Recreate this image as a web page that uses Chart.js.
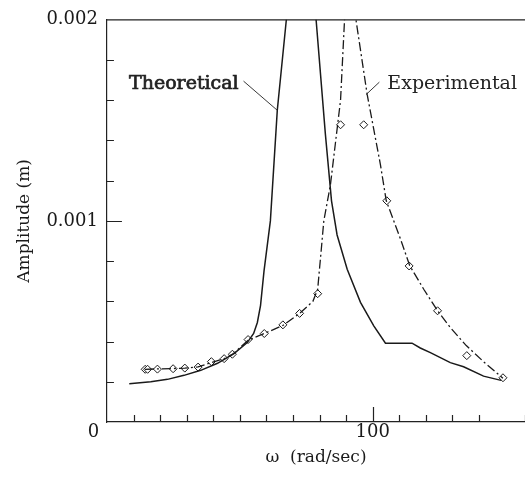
<!DOCTYPE html>
<html>
<head>
<meta charset="utf-8">
<script src="https://cdn.jsdelivr.net/npm/chart.js@4/dist/chart.umd.min.js"></script>
<style>
  html, body { margin: 0; padding: 0; background: #fff; }
  #wrap { width: 525px; height: 481px; }
</style>
</head>
<body>
<div id="wrap"><canvas id="myChart"></canvas></div>
<script>
// theoretical response (solid)
const thX = [8.4, 16.5, 22.8, 29, 35.3, 41.6, 47.8, 52.8, 55.2, 56.6, 57.8, 59.1, 61.5, 64.1, 67.5, 73, 78.7, 82.2, 84.5, 86.6, 90.4, 95.4, 100.4, 104.8, 114.8, 117.9, 121.7, 129.2, 134.2, 141.7, 148.3];
const thY = [0.00019, 0.0002, 0.000212, 0.000232, 0.000257, 0.000292, 0.00034, 0.000395, 0.00044, 0.000495, 0.00058, 0.00075, 0.001, 0.00155, 0.002, 0.0032, 0.002, 0.00143, 0.0011, 0.00093, 0.00076, 0.000595, 0.000478, 0.000392, 0.000392, 0.000368, 0.000345, 0.000295, 0.000275, 0.000228, 0.000207];

// experimental fit (dash-dot)
const fitX = [14.3, 19, 24.9, 29.3, 34.3, 39.3, 44.1, 47.2, 53.1, 59.2, 66.2, 72.5, 77.5, 79.3, 79.9, 80.6, 81.6, 84.1, 87.9, 89.4, 91.5, 93.7, 97.9, 102.9, 105.1, 110.4, 113.9, 119.2, 124.4, 129.2, 135.2, 141.7, 149];
const fitY = [0.000262, 0.000264, 0.000266, 0.000268, 0.000274, 0.000296, 0.000315, 0.000336, 0.000406, 0.00044, 0.00048, 0.00054, 0.0006, 0.00066, 0.00075, 0.00085, 0.001, 0.00118, 0.0016, 0.002, 0.0028, 0.002, 0.00163, 0.00128, 0.0011, 0.000912, 0.000778, 0.00066, 0.000553, 0.00047, 0.00038, 0.0003, 0.000218];

// measured points (diamonds)
const expX = [14.4, 15.3, 19.0, 24.9, 29.3, 34.3, 39.3, 44.1, 47.2, 53.1, 59.2, 66.2, 72.5, 79.3, 87.9, 96.6, 105.3, 113.7, 124.4, 135.4, 149.0];
const expY = [0.000262, 0.000262, 0.000263, 0.000265, 0.000268, 0.000273, 0.0003, 0.000315, 0.000337, 0.00041, 0.00044, 0.000483, 0.00054, 0.000638, 0.001478, 0.001478, 0.0011, 0.000776, 0.000553, 0.00033, 0.00022];

const xLabels = [0, 100];
const yLabels = [0.001, 0.002];

const pts = (xs, ys) => xs.map((v, i) => ({x: v, y: ys[i]}));
const near = (a, b) => Math.abs(a - b) < 1e-9;

// callouts, in data units
const notes = [
  {text: 'Theoretical', at: [8.3, 0.00168], heavy: true, from: [51.4, 0.001695], to: [64.1, 0.00155]},
  {text: 'Experimental', at: [105.5, 0.00168], heavy: false, from: [102.5, 0.00169], to: [97.5, 0.001628]}
];

const frame = {
  id: 'frame',
  afterDatasetsDraw(chart) {
    const {ctx, chartArea: a, scales: {x, y}} = chart;
    ctx.save();
    ctx.strokeStyle = '#222';
    ctx.lineWidth = 1.2;
    ctx.beginPath();
    ctx.moveTo(a.left, a.top);
    ctx.lineTo(a.right, a.top);
    x.ticks.forEach(t => {
      if (t.value <= 0) return;
      const px = Math.round(x.getPixelForValue(t.value)) + 0.5;
      const len = xLabels.some(v => near(v, t.value)) ? 15 : 7;
      ctx.moveTo(px, a.bottom);
      ctx.lineTo(px, a.bottom - len);
    });
    y.ticks.forEach(t => {
      if (t.value <= 0 || t.value >= 0.002 - 1e-9) return;
      const py = Math.round(y.getPixelForValue(t.value)) + 0.5;
      const len = yLabels.some(v => near(v, t.value)) ? 15 : 7;
      ctx.moveTo(a.left, py);
      ctx.lineTo(a.left + len, py);
    });
    ctx.stroke();

    ctx.lineWidth = 0.9;
    ctx.fillStyle = '#222';
    ctx.textBaseline = 'middle';
    notes.forEach(n => {
      ctx.beginPath();
      ctx.moveTo(x.getPixelForValue(n.from[0]), y.getPixelForValue(n.from[1]));
      ctx.lineTo(x.getPixelForValue(n.to[0]), y.getPixelForValue(n.to[1]));
      ctx.stroke();
      ctx.font = '19px "DejaVu Serif"';
      const tx = x.getPixelForValue(n.at[0]);
      const ty = y.getPixelForValue(n.at[1]);
      ctx.fillText(n.text, tx, ty);
      if (n.heavy) {
        ctx.lineWidth = 0.7;
        ctx.strokeText(n.text, tx, ty);
        ctx.lineWidth = 0.9;
      }
    });
    ctx.restore();
  }
};

let myChart = document.getElementById('myChart').getContext('2d');
let ampChart = new Chart(myChart, {
  type: 'scatter',
  data: {
    datasets: [{
      label: 'Theoretical',
      data: pts(thX, thY),
      showLine: true,
      borderColor: '#1a1a1a',
      borderWidth: 1.5,
      pointRadius: 0,
      tension: 0
    }, {
      label: 'Experimental fit',
      data: pts(fitX, fitY),
      showLine: true,
      borderColor: '#1a1a1a',
      borderWidth: 1.3,
      borderDash: [9, 3, 2, 3],
      pointRadius: 0,
      tension: 0
    }, {
      label: 'Experimental',
      data: pts(expX, expY),
      showLine: false,
      pointStyle: 'rectRot',
      pointRadius: 4,
      pointBackgroundColor: '#fff',
      pointBorderColor: '#1a1a1a',
      pointBorderWidth: 1
    }]
  },
  options: {
    animation: false,
    responsive: true,
    maintainAspectRatio: false,
    layout: {autoPadding: false, padding: {left: 10, right: 0, top: 19, bottom: 1}},
    plugins: {legend: {display: false}, tooltip: {enabled: false}},
    scales: {
      x: {
        type: 'linear',
        min: 0,
        max: 157.3,
        afterFit: s => { s.paddingRight = 0; },
        grid: {display: false, drawTicks: false},
        border: {display: true, color: '#222', width: 1.2},
        ticks: {
          stepSize: 10,
          autoSkip: false,
          maxRotation: 0,
          padding: 0,
          color: '#1a1a1a',
          font: {family: '"DejaVu Serif"', size: 18},
          callback: v => near(v, 0) ? '0\u2002\u2002\u2002' : (xLabels.some(l => near(l, v)) ? String(v) : '')
        },
        title: {
          display: true,
          text: '\u03c9  (rad/sec)',
          color: '#1a1a1a',
          font: {family: '"DejaVu Serif"', size: 17},
          padding: {top: 4, bottom: 12}
        }
      },
      y: {
        type: 'linear',
        min: 0,
        max: 0.002,
        grid: {display: false, drawTicks: false},
        border: {display: true, color: '#222', width: 1.2},
        ticks: {
          stepSize: 0.0002,
          autoSkip: false,
          padding: 9,
          color: '#1a1a1a',
          font: {family: '"DejaVu Serif"', size: 18},
          callback: v => yLabels.some(l => near(l, v)) ? v.toFixed(3) : ''
        },
        title: {
          display: true,
          text: 'Amplitude (m)',
          color: '#1a1a1a',
          font: {family: '"DejaVu Serif"', size: 17},
          padding: {top: 4, bottom: 3}
        }
      }
    }
  },
  plugins: [frame]
});
</script>
</body>
</html>
